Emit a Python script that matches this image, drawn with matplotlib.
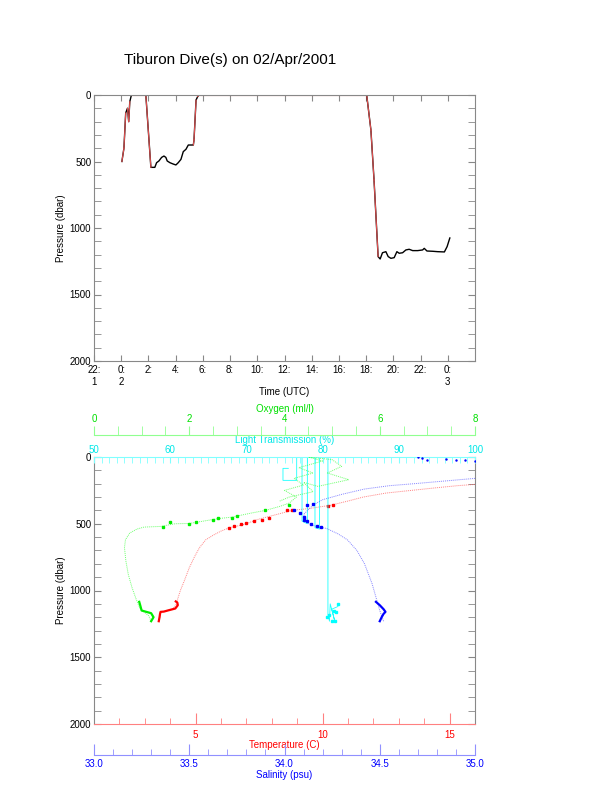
import matplotlib
matplotlib.use("Agg")
import matplotlib.pyplot as plt
import numpy as np
from matplotlib.ticker import MultipleLocator, FormatStrFormatter

plt.rcParams['font.family'] = ['Liberation Sans', 'DejaVu Sans']

# ---- top panel: dive profile (hours after 00:00 on 02/Apr, dbar)
dive_t = [0.05, 0.2, 0.33, 0.46, 0.55, 0.63, 0.75, 1.81, 2.18, 2.47, 2.6, 2.77, 2.97,
          3.14, 3.28, 3.38, 3.58, 3.82, 4.02, 4.19, 4.39, 4.56, 4.76, 4.93, 5.30, 5.35,
          5.5, 5.62, 5.72, 18.04, 18.35, 18.58, 18.88, 19.03, 19.2, 19.45, 19.62, 19.82,
          20.06, 20.26, 20.43, 20.68, 20.92, 21.16, 21.42, 21.79, 22.15, 22.27, 22.47,
          22.89, 23.26, 23.75, 23.95, 24.15]
dive_p = [500, 400, 135, 100, 200, 50, 0, 0, 544, 544, 509, 496, 469,
          459, 469, 496, 509, 519, 526, 509, 484, 426, 408, 376, 376, 338,
          38, 12, 0, 0, 263, 639, 1215, 1233, 1186, 1178, 1215, 1228,
          1223, 1178, 1190, 1186, 1165, 1160, 1170, 1170, 1165, 1153, 1173,
          1175, 1178, 1180, 1140, 1075]

time_ticks = [-2, 0, 2, 4, 6, 8, 10, 12, 14, 16, 18, 20, 22, 24]
time_labels = ["22:\n1", "0:\n2", "2:", "4:", "6:", "8:", "10:", "12:", "14:",
               "16:", "18:", "20:", "22:", "0:\n3"]

# ---- bottom panel: CTD profiles vs pressure
temp_c = [3.55, 3.6, 3.62, 3.8, 4.1, 4.25, 4.3, 4.4, 4.55, 4.75, 4.95, 5.15, 5.4, 5.7,
          6.0, 6.35, 6.7, 7.0, 7.4, 7.9, 8.4, 8.8, 9.5, 10.3, 11.0, 11.6, 12.5, 13.5,
          14.5, 15.3, 16.0]
temp_p = [1230, 1195, 1160, 1155, 1140, 1100, 1060, 1000, 930, 830, 750, 680, 620, 585,
          555, 528, 515, 500, 470, 445, 420, 400, 385, 362, 330, 300, 270, 250,
          230, 215, 205]
temp_deep_c = [3.55, 3.58, 3.6, 3.62, 3.75, 3.9, 4.2, 4.3, 4.28, 4.22]
temp_deep_p = [1230, 1200, 1175, 1160, 1158, 1150, 1135, 1110, 1090, 1082]
temp_mid_c = [6.3, 6.5, 6.8, 7.0, 7.3, 7.6, 7.9, 8.6, 8.8, 10.2, 10.4]
temp_mid_p = [530, 518, 505, 495, 480, 470, 455, 400, 398, 365, 360]

sal = [34.52, 34.5, 34.48, 34.46, 34.42, 34.38, 34.33, 34.28, 34.22, 34.18, 34.13, 34.1,
       34.15, 34.2, 34.3, 34.42, 34.55, 34.68, 34.8, 34.92, 35.0]
sal_p = [1230, 1150, 1050, 950, 800, 700, 620, 575, 535, 525, 505, 430,
         360, 320, 280, 240, 215, 200, 185, 170, 160]
sal_deep = [34.5, 34.51, 34.52, 34.53, 34.52, 34.5, 34.48]
sal_deep_p = [1230, 1200, 1175, 1160, 1140, 1110, 1085]
sal_mid = [34.05, 34.08, 34.1, 34.12, 34.14, 34.17, 34.19, 34.12, 34.1, 34.15]
sal_mid_p = [395, 420, 450, 480, 505, 515, 528, 360, 470, 350]
sal_surf = [34.7, 34.72, 34.75, 34.85, 34.9, 34.95, 35.0]
sal_surf_p = [0, 10, 22, 15, 25, 20, 30]

oxy = [1.2, 1.15, 1.05, 0.96, 0.88, 0.8, 0.72, 0.67, 0.64, 0.66, 0.75, 0.9, 1.05, 1.4,
       1.7, 2.0, 2.3, 2.6, 2.9, 3.3, 3.6, 3.9, 4.1, 4.25, 4.0, 4.4, 4.2, 4.6, 4.3, 4.8,
       4.5, 5.0, 5.2, 4.9, 5.35, 4.7, 4.4, 4.6, 4.1, 3.9]
oxy_p = [1230, 1190, 1160, 1130, 1060, 980, 880, 780, 680, 620, 570, 540, 525, 520,
         500, 498, 480, 462, 450, 420, 400, 370, 345, 300, 250, 210, 160, 120, 80, 30,
         0, 20, 70, 120, 170, 220, 190, 260, 300, 330]
oxy_deep = [0.95, 0.97, 1.0, 1.1, 1.2, 1.25, 1.2]
oxy_deep_p = [1085, 1110, 1150, 1160, 1170, 1200, 1230]
oxy_mid = [1.45, 1.6, 2.0, 2.15, 2.5, 2.6, 2.9, 3.0, 3.6, 4.1]
oxy_mid_p = [525, 485, 500, 490, 470, 460, 455, 445, 400, 362]

light = [75.5, 74.8, 74.8, 76.6, 76.6, 77.3, 77.3, 78.0, 78.0, 79.0, 79.0, 79.6, 79.6,
         80.7, 80.7, 80.9, 81.0, 81.6, 81.2, 82.0]
light_p = [85, 85, 175, 175, 0, 0, 480, 500, 0, 0, 530, 540, 0,
           0, 1180, 1230, 1100, 1230, 1140, 1120]
light_deep = [80.6, 80.9, 81.2, 81.5, 81.6, 82.0, 81.8]
light_deep_p = [1200, 1180, 1230, 1150, 1230, 1100, 1160]

GRAY = '#888888'
FS = 7
DOT = (0, (1, 1))

fig = plt.figure(figsize=(6.12, 7.85), dpi=100)
fig.text(230 / 612, 1 - 60 / 785, "Tiburon Dive(s) on 02/Apr/2001", fontsize=11,
         ha='center', va='center')

# ---------------- top panel
ax1 = fig.add_axes([94 / 612, 1 - 361 / 785, 381 / 612, 266 / 785])
t = np.array(dive_t)
p = np.array(dive_p)
ax1.plot(t, p, color='black', lw=1.0)
rate = np.abs(np.diff(p)) / np.diff(t)
for i in range(len(t) - 1):
    if rate[i] > 500 or (p[i] < 30 and p[i + 1] < 30):
        ax1.plot(t[i:i + 2], p[i:i + 2], color='#e05050', lw=0.8)
ax1.set_xlim(-2, 26)
ax1.set_ylim(2000, 0)
ax1.set_xticks(time_ticks)
ax1.set_xticklabels(time_labels, fontsize=FS)
ax1.yaxis.set_major_locator(MultipleLocator(500))
ax1.yaxis.set_minor_locator(MultipleLocator(100))
ax1.tick_params(axis='y', which='both', direction='in', left=True, right=True,
                length=5, color=GRAY, labelsize=FS, pad=2)
ax1.tick_params(axis='x', which='both', direction='in', top=True, bottom=True,
                length=4, color=GRAY, labelsize=FS, pad=3)
ax1.set_xlabel("Time (UTC)", fontsize=FS, labelpad=0)
ax1.set_ylabel("Pressure (dbar)", fontsize=FS, labelpad=3)
for s in ax1.spines.values():
    s.set_color(GRAY)
    s.set_linewidth(0.8)

# ---------------- bottom panel
ax2 = fig.add_axes([94 / 612, 1 - 724 / 785, 381 / 612, 267 / 785])
axL = ax2.twiny()
axO = ax2.twiny()
axS = ax2.twiny()

ax2.set_ylim(2000, 0)
ax2.yaxis.set_major_locator(MultipleLocator(500))
ax2.yaxis.set_minor_locator(MultipleLocator(100))
ax2.tick_params(axis='y', which='both', direction='in', left=True, right=True,
                length=5, color=GRAY, labelsize=FS, pad=2)
ax2.set_ylabel("Pressure (dbar)", fontsize=FS, labelpad=3)

# temperature on the main axis (bottom)
ax2.set_xlim(1, 16)
ax2.xaxis.set_major_locator(MultipleLocator(5))
ax2.xaxis.set_minor_locator(MultipleLocator(1))
ax2.tick_params(axis='x', which='major', direction='in', length=8, color='#ff8080',
                labelcolor='red', labelsize=FS, pad=4)
ax2.tick_params(axis='x', which='minor', direction='in', length=4, color='#ff8080')
ax2.set_xlabel("Temperature (C)", fontsize=FS, color='red', labelpad=0)
ax2.spines['bottom'].set_color('#ff8080')
ax2.spines['top'].set_visible(False)
for k in ('left', 'right'):
    ax2.spines[k].set_color(GRAY)
    ax2.spines[k].set_linewidth(0.8)

# light transmission on the top spine
axL.set_xlim(50, 100)
axL.xaxis.set_major_locator(MultipleLocator(10))
axL.xaxis.set_minor_locator(MultipleLocator(1))
axL.tick_params(axis='x', which='both', direction='in', length=4, color='#80ffff',
                labelcolor='#00e8e8', labelsize=FS, pad=1.5)
axL.set_xlabel("Light Transmission (%)", fontsize=FS, color='#00e8e8', labelpad=1.5)
for k in ('left', 'right', 'bottom'):
    axL.spines[k].set_visible(False)
axL.spines['top'].set_color('#80ffff')

# oxygen on an offset top axis
axO.set_xlim(0, 8)
axO.spines['top'].set_position(('outward', 16))
axO.xaxis.set_major_locator(MultipleLocator(2))
axO.xaxis.set_minor_locator(MultipleLocator(0.5))
axO.tick_params(axis='x', which='both', direction='out', length=6.5, color='#90ff90',
                labelcolor='#00e000', labelsize=FS, pad=1.5)
axO.set_xlabel("Oxygen (ml/l)", fontsize=FS, color='#00e000', labelpad=1.5)
for k in ('left', 'right', 'bottom'):
    axO.spines[k].set_visible(False)
axO.spines['top'].set_color('#90ff90')

# salinity on an offset bottom axis
axS.set_xlim(33, 35)
axS.xaxis.set_ticks_position('bottom')
axS.xaxis.set_label_position('bottom')
axS.spines['bottom'].set_position(('outward', 22))
axS.spines['bottom'].set_visible(True)
axS.spines['bottom'].set_color('#9090ff')
for k in ('left', 'right', 'top'):
    axS.spines[k].set_visible(False)
axS.xaxis.set_major_locator(MultipleLocator(0.5))
axS.xaxis.set_minor_locator(MultipleLocator(0.1))
axS.xaxis.set_major_formatter(FormatStrFormatter('%.1f'))
axS.tick_params(axis='x', which='major', direction='in', length=8, color='#9090ff',
                labelcolor='blue', labelsize=FS, pad=3)
axS.tick_params(axis='x', which='minor', direction='in', length=4, color='#9090ff')
axS.set_xlabel("Salinity (psu)", fontsize=FS, color='blue', labelpad=1)

# profiles
ax2.plot(temp_c, temp_p, color='#ff5050', lw=0.7, ls=DOT, alpha=0.7)
ax2.plot(temp_deep_c, temp_deep_p, color='red', lw=1.6)
ax2.plot(temp_mid_c, temp_mid_p, color='red', lw=0, marker='s', ms=1.8)

axO.plot(oxy, oxy_p, color='#30ff30', lw=0.7, ls=DOT, alpha=0.7)
axO.plot(oxy_deep, oxy_deep_p, color='#00ee00', lw=1.6)
axO.plot(oxy_mid, oxy_mid_p, color='#00ee00', lw=0, marker='s', ms=1.8)

axL.plot(light, light_p, color='cyan', lw=0.6, alpha=0.9)
axL.plot(light_deep, light_deep_p, color='cyan', lw=0, marker='s', ms=1.8)

axS.plot(sal, sal_p, color='#5050ff', lw=0.7, ls=DOT, alpha=0.7)
axS.plot(sal_deep, sal_deep_p, color='blue', lw=1.6)
axS.plot(sal_mid, sal_mid_p, color='blue', lw=0, marker='s', ms=1.8)
axS.plot(sal_surf, sal_surf_p, color='blue', lw=0, marker='.', ms=1.5)

fig.savefig("out.png", dpi=100)
